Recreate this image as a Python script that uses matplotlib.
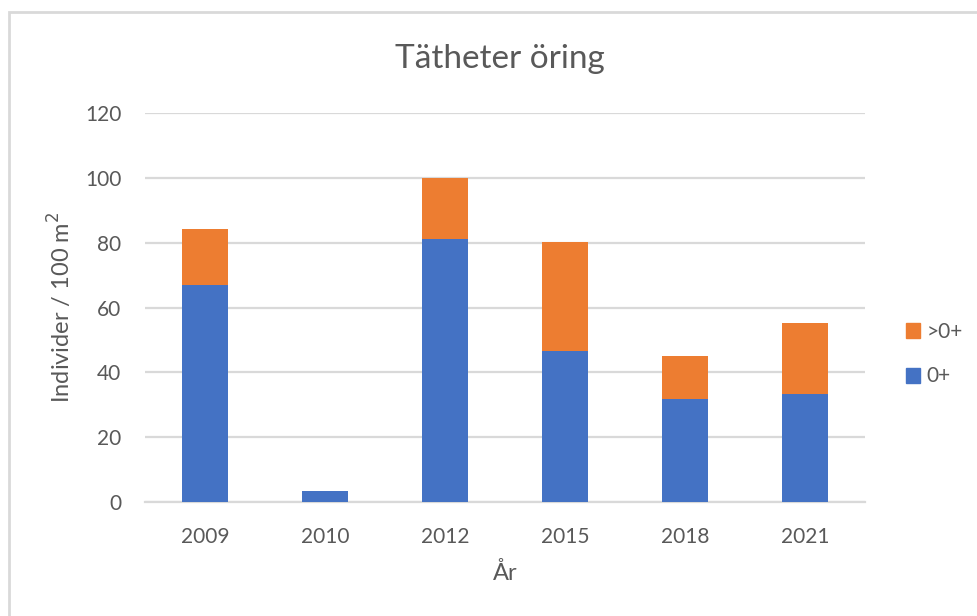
import matplotlib
matplotlib.use("Agg")
import matplotlib.pyplot as plt
from matplotlib.patches import Rectangle, Patch

years = ["2009", "2010", "2012", "2015", "2018", "2021"]
young = [66.8, 3.4, 81.0, 46.7, 31.8, 33.3]      # 0+
older = [17.4, 0.0, 19.1, 33.4, 13.2, 21.8]      # >0+
yticks = [0, 20, 40, 60, 80, 100, 120]

BLUE = "#4472C4"
ORANGE = "#ED7D31"
TEXT = "#595959"
GRID = "#D9D9D9"

plt.rcParams["font.family"] = ["Lato", "DejaVu Sans"]

W, H = 978, 616
fig = plt.figure(figsize=(W / 100, H / 100), dpi=100)
fig.patch.set_facecolor("white")

# chart frame
fig.patches.append(Rectangle((9 / W, -0.1), 1.2, 1 - 12 / H + 0.1,
                             transform=fig.transFigure, fill=False,
                             edgecolor="#D9D9D9", linewidth=2.0, zorder=0))

left, right = 145 / W, 865 / W
bottom, top = 1 - 502 / H, 1 - 113 / H
ax = fig.add_axes([left, bottom, right - left, top - bottom])

x = list(range(len(years)))
ax.bar(x, young, width=0.39, color=BLUE, zorder=3, label="0+")
ax.bar(x, older, width=0.39, bottom=young, color=ORANGE, zorder=3, label=">0+")

ax.set_xlim(-0.5, len(years) - 0.5)
ax.set_ylim(0, 120)
ax.set_yticks(yticks)
ax.set_xticks(x)
ax.set_xticklabels(years)
ax.yaxis.grid(True, color=GRID, linewidth=1.6, zorder=0)
ax.set_axisbelow(True)
for s in ["top", "right", "left"]:
    ax.spines[s].set_visible(False)
ax.spines["bottom"].set_color(GRID)
ax.spines["bottom"].set_linewidth(1.6)
ax.tick_params(axis="both", length=0, labelsize=15, colors=TEXT)
ax.tick_params(axis="y", pad=17)
ax.tick_params(axis="x", pad=18)

ax.set_xlabel("År", fontsize=17, color=TEXT, labelpad=11)
ax.set_ylabel("Individer / 100 m$^2$", fontsize=17, color=TEXT)
ax.yaxis.set_label_coords(-0.098, 0.5)

fig.text(500 / W, 1 - 59 / H, "Tätheter öring", ha="center", va="center",
         fontsize=24, color=TEXT)

handles = [Patch(color=ORANGE, label=">0+"), Patch(color=BLUE, label="0+")]
fig.legend(handles=handles, loc="center left",
           bbox_to_anchor=(887 / W, 1 - 354 / H), frameon=False,
           fontsize=15, labelcolor=TEXT, handlelength=0.7, handleheight=0.7,
           handletextpad=0.3, labelspacing=1.2)

fig.savefig("out.png", dpi=100, facecolor="white")
